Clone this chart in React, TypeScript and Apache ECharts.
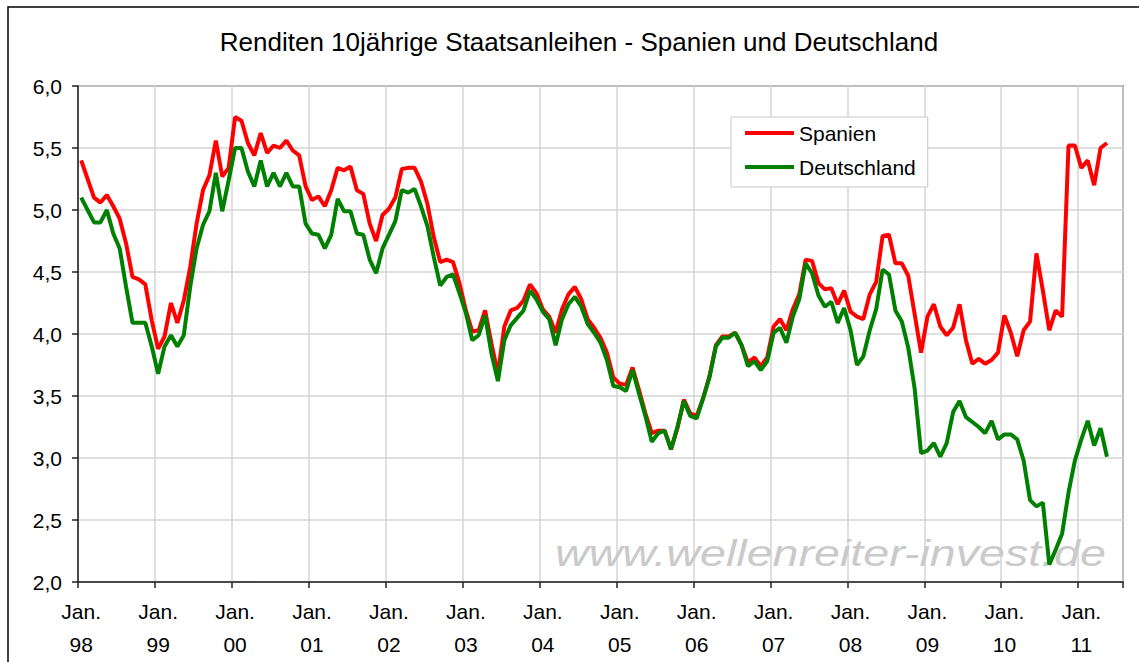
import React, { useEffect, useRef } from 'react';
import * as echarts from 'echarts';

// Year labels for the January ticks (Jan. 98 ... Jan. 11)
const yearLabels = ['98', '99', '00', '01', '02', '03', '04', '05', '06', '07', '08', '09', '10', '11'];
// Month categories: Jan 1998 ... Jul 2011 (axis extent)
const monthCount = 163;
const categories: string[] = [];
for (let i = 0; i < monthCount; i++) {
  categories.push(yearLabels[Math.floor(i / 12)] + '-' + String((i % 12) + 1));
}

// Monthly yields, Jan 1998 - May 2011
const spanien = [
  5.40, 5.25, 5.10, 5.06, 5.12, 5.03, 4.93, 4.73, 4.46, 4.44, 4.40, 4.11,
  3.88, 3.98, 4.25, 4.09, 4.27, 4.54, 4.89, 5.16, 5.28, 5.56, 5.27, 5.34,
  5.75, 5.72, 5.54, 5.44, 5.62, 5.46, 5.52, 5.50, 5.56, 5.48, 5.44, 5.19,
  5.08, 5.11, 5.03, 5.16, 5.34, 5.32, 5.35, 5.16, 5.13, 4.89, 4.75, 4.96,
  5.01, 5.10, 5.33, 5.34, 5.34, 5.23, 5.05, 4.78, 4.58, 4.60, 4.58, 4.41,
  4.19, 4.02, 4.03, 4.19, 3.92, 3.68, 4.06, 4.19, 4.21, 4.27, 4.40, 4.33,
  4.20, 4.14, 4.01, 4.20, 4.32, 4.38, 4.28, 4.12, 4.05, 3.97, 3.85, 3.65,
  3.60, 3.59, 3.73, 3.55, 3.36, 3.20, 3.22, 3.22, 3.07, 3.24, 3.47, 3.36,
  3.34, 3.48, 3.66, 3.91, 3.98, 3.98, 4.01, 3.91, 3.77, 3.81, 3.74, 3.81,
  4.06, 4.12, 4.03, 4.20, 4.32, 4.60, 4.59, 4.41, 4.36, 4.37, 4.24, 4.35,
  4.18, 4.14, 4.12, 4.32, 4.42, 4.79, 4.80, 4.57, 4.57, 4.47, 4.16, 3.85,
  4.14, 4.24, 4.06, 3.99, 4.05, 4.24, 3.95, 3.76, 3.80, 3.76, 3.79, 3.85,
  4.15, 4.01, 3.82, 4.03, 4.10, 4.65, 4.35, 4.03, 4.19, 4.14, 5.52, 5.52,
  5.34, 5.40, 5.20, 5.50, 5.54,
];

const deutschland = [
  5.10, 5.00, 4.90, 4.90, 5.00, 4.81, 4.69, 4.38, 4.09, 4.09, 4.09, 3.90,
  3.68, 3.90, 3.99, 3.90, 3.99, 4.38, 4.69, 4.88, 4.99, 5.30, 4.99, 5.24,
  5.50, 5.50, 5.31, 5.19, 5.40, 5.19, 5.30, 5.19, 5.30, 5.19, 5.19, 4.89,
  4.81, 4.80, 4.69, 4.80, 5.09, 4.99, 4.99, 4.81, 4.80, 4.60, 4.49, 4.69,
  4.80, 4.91, 5.16, 5.14, 5.17, 5.03, 4.87, 4.62, 4.39, 4.46, 4.48, 4.33,
  4.17, 3.95, 3.99, 4.15, 3.84, 3.62, 3.95, 4.07, 4.13, 4.19, 4.35, 4.28,
  4.18, 4.12, 3.91, 4.12, 4.24, 4.30, 4.22, 4.08, 4.01, 3.93, 3.79, 3.58,
  3.57, 3.54, 3.71, 3.52, 3.34, 3.13, 3.20, 3.22, 3.07, 3.25, 3.46, 3.34,
  3.32, 3.48, 3.65, 3.90, 3.97, 3.97, 4.01, 3.91, 3.74, 3.78, 3.71, 3.78,
  4.01, 4.05, 3.93, 4.14, 4.28, 4.57, 4.49, 4.31, 4.22, 4.26, 4.09, 4.21,
  4.03, 3.75, 3.82, 4.03, 4.20, 4.52, 4.48, 4.19, 4.10, 3.89, 3.56, 3.04,
  3.06, 3.12, 3.01, 3.12, 3.37, 3.46, 3.33, 3.29, 3.25, 3.20, 3.30, 3.15,
  3.19, 3.19, 3.15, 2.98, 2.66, 2.61, 2.64, 2.14, 2.26, 2.39, 2.72, 2.98,
  3.15, 3.30, 3.10, 3.24, 3.01,
];

const FONT = 'Liberation Sans, Arial, sans-serif';
const isJanuary = (index: number) => index % 12 === 0;

export default function App() {
  const ref = useRef<HTMLDivElement>(null);

  useEffect(() => {
    if (!ref.current) return;
    const chart = echarts.init(ref.current, undefined, { renderer: 'svg' });
    chart.setOption({
      animation: false,
      backgroundColor: '#ffffff',
      textStyle: { fontFamily: FONT },
      grid: {
        left: 78,
        right: 16,
        top: 86,
        bottom: 80,
        show: true,
        borderColor: '#808080',
        borderWidth: 2,
        backgroundColor: 'transparent',
      },
      legend: {
        data: ['Spanien', 'Deutschland'],
        orient: 'vertical',
        left: 731,
        top: 117,
        icon: 'rect',
        itemWidth: 49,
        itemHeight: 4,
        itemGap: 10,
        padding: [4, 12, 8, 14],
        borderColor: '#c8c8c8',
        borderWidth: 1,
        backgroundColor: '#ffffff',
        textStyle: { fontFamily: FONT, fontSize: 21, lineHeight: 24, color: '#000' },
      },
      xAxis: {
        type: 'category',
        data: categories,
        boundaryGap: true,
        axisLine: { show: true, lineStyle: { color: '#222', width: 1.5 } },
        axisTick: { show: true, interval: isJanuary, length: 6, lineStyle: { color: '#222', width: 1.5 } },
        axisLabel: {
          interval: isJanuary,
          formatter: (v: string) => 'Jan.\n' + v.split('-')[0],
          fontFamily: FONT,
          fontSize: 21,
          lineHeight: 33,
          margin: 13,
          color: '#000',
        },
        splitLine: { show: true, interval: isJanuary, lineStyle: { color: '#d4d4d4', width: 1.5 } },
      },
      yAxis: {
        type: 'value',
        min: 2,
        max: 6,
        interval: 0.5,
        axisLine: { show: true, lineStyle: { color: '#222', width: 1.5 } },
        axisTick: { show: true, length: 6, lineStyle: { color: '#222', width: 1.5 } },
        axisLabel: {
          formatter: (v: number) => v.toFixed(1).replace('.', ','),
          fontFamily: FONT,
          fontSize: 21,
          margin: 16,
          color: '#000',
        },
        splitLine: { show: true, lineStyle: { color: '#d4d4d4', width: 1.5 } },
      },
      graphic: [
        {
          type: 'rect',
          silent: true,
          shape: { x: 8, y: 7, width: 1200, height: 800 },
          style: { fill: 'none', stroke: '#000', lineWidth: 1.5 },
        },
        {
          type: 'text',
          x: 579,
          y: 42,
          style: {
            text: 'Renditen 10jährige Staatsanleihen - Spanien und Deutschland',
            font: '26px ' + FONT,
            fill: '#000',
            textAlign: 'center',
            textVerticalAlign: 'middle',
          },
        },
        {
          type: 'text',
          x: 555,
          y: 553,
          scaleX: 1.26,
          z: 1,
          silent: true,
          style: {
            text: 'www.wellenreiter-invest.de',
            font: 'italic 37px ' + FONT,
            fill: '#cacaca',
            textAlign: 'left',
            textVerticalAlign: 'middle',
          },
        },
      ],
      series: [
        {
          name: 'Spanien',
          type: 'line',
          data: spanien,
          symbol: 'none',
          lineStyle: { color: '#ff0000', width: 4 },
          itemStyle: { color: '#ff0000' },
          z: 3,
        },
        {
          name: 'Deutschland',
          type: 'line',
          data: deutschland,
          symbol: 'none',
          lineStyle: { color: '#008000', width: 4 },
          itemStyle: { color: '#008000' },
          z: 4,
        },
      ],
    });
    return () => chart.dispose();
  }, []);

  return (
    <div
      ref={ref}
      style={{ position: 'absolute', left: 0, top: 0, width: 1139, height: 662 }}
    />
  );
}
